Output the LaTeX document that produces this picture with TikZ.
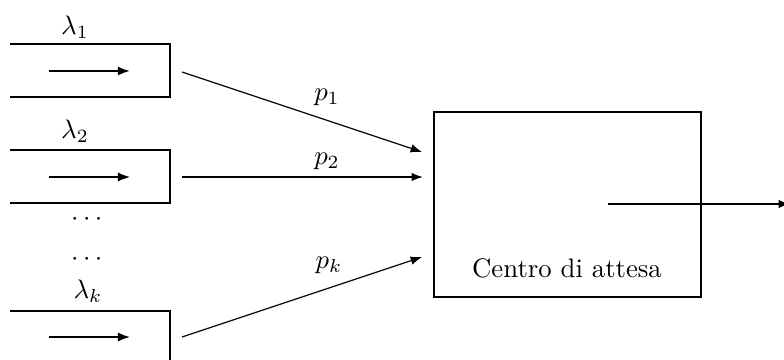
\documentclass[tikz,border=0pt]{standalone}
\usepackage{amsmath,amssymb}
\usetikzlibrary{arrows.meta,positioning,calc}
\tikzset{
  queue/.style={draw=black,line width=1pt},
  centre/.style={draw=black,line width=1pt,minimum width=106.8pt,minimum height=74pt,inner sep=0pt},
  inflow/.style={-{Latex[length=1.7mm]},line width=0.6pt},
  link/.style={-{Latex[length=1.6mm]},line width=0.45pt},
  outflow/.style={-{Latex[length=1.6mm]},line width=1.1pt},
  tag/.style={inner sep=1pt,font=\normalsize,scale=1.07}
}

\begin{document}
\begin{tikzpicture}[x=0.4pt,y=-0.4pt]
  \clip (0,0) rectangle (784,359);
  % queues
  \draw[queue] (10,44) -- (170,44) -- (170,97) -- (10,97);
  \draw[queue] (10,150) -- (170,150) -- (170,203) -- (10,203);
  \draw[queue] (10,311) -- (170,311) -- (170,364) -- (10,364);
  \coordinate (a1) at (49,71);   \coordinate (b1) at (130,71);
  \coordinate (a2) at (49,177);  \coordinate (b2) at (130,177);
  \coordinate (ak) at (49,337);  \coordinate (bk) at (130,337);
  \draw[inflow,line width=0.8pt] (a1) -- (b1);
  \draw[inflow,line width=0.5pt] (a2) -- (b2);
  \draw[inflow,line width=0.65pt] (ak) -- (bk);
  \node[tag] (lam1) at (75,27) {$\lambda_1$};
  \node[tag] (lam2) at (75,131) {$\lambda_2$};
  \node[tag] (lamk) at (88,291) {$\lambda_k$};
  \node[tag] (dots1) at (89,220) {$\cdots$};
  \node[tag] (dots2) at (89,260) {$\cdots$};
  % waiting centre
  \node[centre] (centro) at (567.5,204.5) {};
  \node[tag] (ctext) at (567,268) {Centro di attesa};
  % routing
  \coordinate (q1) at (182,72);  \coordinate (e1) at (422,152);
  \coordinate (q2) at (182,177); \coordinate (e2) at (423,177);
  \coordinate (qk) at (182,337); \coordinate (ek) at (422,257);
  \draw[link] (q1) -- (e1);
  \draw[link,line width=0.65pt] (q2) -- (e2);
  \draw[link] (qk) -- (ek);
  \node[tag] (p1) at (327,97) {$p_1$};
  \node[tag] (p2) at (327,161) {$p_2$};
  \node[tag] (pk) at (329,265) {$p_k$};
  % output
  \coordinate (o0) at (608,204);
  \coordinate (o1) at (790,204);
  \draw[outflow] (o0) -- (o1);
\end{tikzpicture}
\end{document}
